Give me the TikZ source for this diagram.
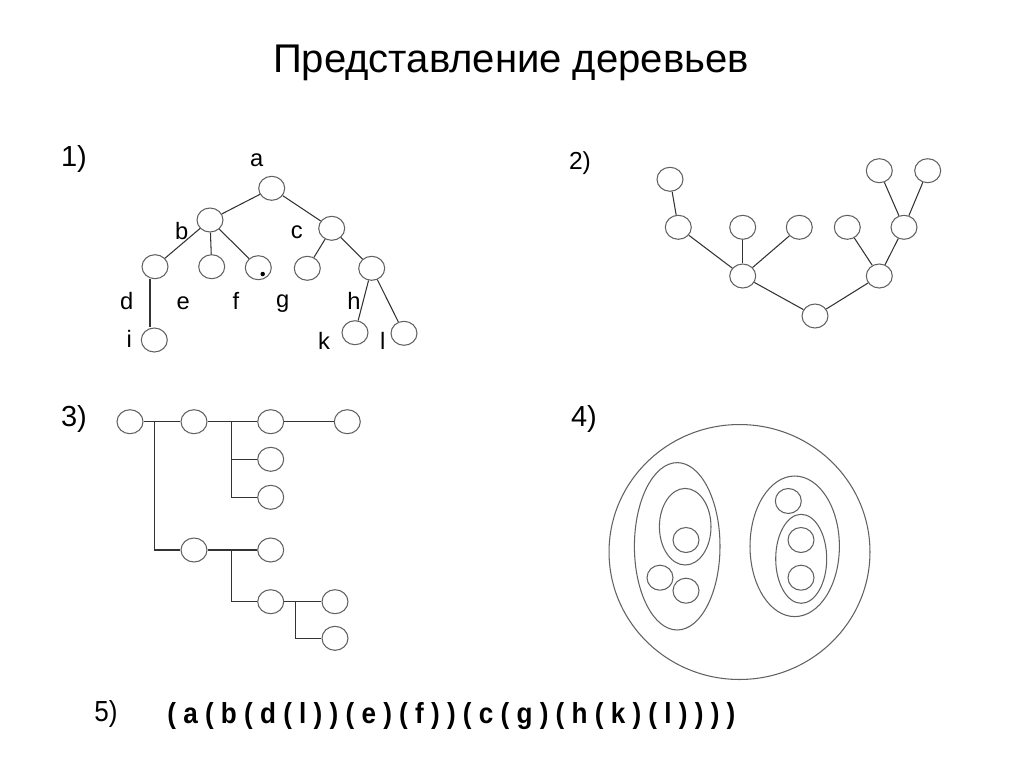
\documentclass[tikz,border=0pt]{standalone}
\usepackage{fontspec}
\setmainfont{Liberation Sans}
\newfontfamily\narrowfont[FakeStretch=0.9]{Liberation Sans}
\usetikzlibrary{shapes.geometric}
\begin{document}
\begin{tikzpicture}[x=0.02cm,y=-0.02cm,
  nd/.style={draw=black!62, line width=0.6pt, ellipse, minimum width=0.52cm, minimum height=0.48cm, inner sep=0pt},
  ed/.style={draw=black!80, line width=0.6pt},
  lbl/.style={font=\fontsize{13.5}{15}\selectfont, inner sep=0pt},
  num/.style={font=\fontsize{16.5}{19}\selectfont, inner sep=0pt},
  shp/.style={draw=black!62, line width=0.6pt}]
\useasboundingbox (0,0) rectangle (1024,768);
\node[font=\fontsize{22.8}{26}\selectfont] (title) at (511,63) {Представление деревьев};
% ---------- 1)
\node[num] (n1) at (74,159) {1)};
\node[nd] (a) at (271.7,188.3) {};
\node[nd] (b) at (210,220) {};
\node[nd] (c) at (331.7,228.3) {};
\node[nd] (d) at (155,266.7) {};
\node[nd] (e) at (211.7,266.7) {};
\node[nd] (f) at (258.3,267.7) {};
\node[nd] (g) at (307.3,268.3) {};
\node[nd] (h) at (371.7,268.3) {};
\node[nd] (i) at (154.3,340) {};
\node[nd] (k) at (355,332.7) {};
\node[nd] (l) at (404,333.3) {};
\fill (262.7,274) circle (0.045cm);
\draw[ed] (a) -- (b);
\draw[ed] (a) -- (c);
\draw[ed] (b) -- (d);
\draw[ed] (b) -- (e);
\draw[ed] (b) -- (f);
\draw[ed] (c) -- (g);
\draw[ed] (c) -- (h);
\draw[ed] (d.south) ++(-5,0) coordinate (dd) -- (dd |- i.north);
\draw[ed] (h) -- (k);
\draw[ed] (h) -- (l);
\node[lbl] (la) at (256.7,160) {a};
\node[lbl] (lb) at (181.7,231) {b};
\node[lbl] (lc) at (296.7,232) {c};
\node[lbl] (ld) at (126.7,301) {d};
\node[lbl] (le) at (183.3,303) {e};
\node[lbl] (lf) at (236,301) {f};
\node[lbl] (lg) at (282.7,304) {g};
\node[lbl] (lh) at (354,301) {h};
\node[lbl] (li) at (129.3,339) {i};
\node[lbl] (lk) at (324,341) {k};
\node[lbl] (ll) at (382.7,341) {l};
% ---------- 2)
\node[font=\fontsize{14}{16}\selectfont, inner sep=0pt] (n2) at (580,163) {2)};
\node[nd] (t1) at (670,179.3) {};
\node[nd] (t2) at (678.3,227.3) {};
\node[nd] (t3) at (742.7,227.3) {};
\node[nd] (t4) at (799.3,227.3) {};
\node[nd] (t5) at (847.3,227.3) {};
\node[nd] (t6) at (904,227.3) {};
\node[nd] (t7) at (879.3,170.7) {};
\node[nd] (t8) at (927.7,170.7) {};
\node[nd] (m1) at (742.7,276) {};
\node[nd] (m2) at (879.3,276) {};
\node[nd] (r) at (815,316) {};
\draw[ed] (t1) -- (t2);
\draw[ed] (t2) -- (m1);
\draw[ed] (t3) -- (m1);
\draw[ed] (t4) -- (m1);
\draw[ed] (t5) -- (m2);
\draw[ed] (t6) -- (m2);
\draw[ed] (t7) -- (t6);
\draw[ed] (t8) -- (t6);
\draw[ed] (m1) -- (r);
\draw[ed] (m2) -- (r);
% ---------- 3)
\node[num] (n3) at (74,419) {3)};
\node[nd] (p1) at (130,421.7) {};
\node[nd] (p2) at (194,421.7) {};
\node[nd] (p3) at (270.7,421.7) {};
\node[nd] (p4) at (347.3,421.7) {};
\node[nd] (p5) at (270.7,459.3) {};
\node[nd] (p6) at (270.7,497.3) {};
\node[nd] (q1) at (194,550) {};
\node[nd] (q2) at (270.7,550) {};
\node[nd] (q3) at (270.7,601.7) {};
\node[nd] (q4) at (335,601.7) {};
\node[nd] (q5) at (335,638.3) {};
\draw[ed] (p1) -- (p2);
\draw[ed] (p2) -- (p3);
\draw[ed] (p3) -- (p4);
\draw[ed] (154.3,421.7) |- (q1);
\draw[ed] (231.7,421.7) |- (p5);
\draw[ed] (231.7,421.7) |- (p6);
\draw[ed] (q1) -- (q2);
\draw[ed] (231.7,550) |- (q3);
\draw[ed] (q3) -- (q4);
\draw[ed] (295.7,601.7) |- (q5);
% ---------- 4)
\node[num] (n4) at (584,419) {4)};
\draw[shp] (739.5,552) ellipse [x radius=2.61cm, y radius=2.55cm];
\draw[shp] (677.2,546.3) ellipse [x radius=0.856cm, y radius=1.674cm];
\draw[shp] (685.2,526.7) ellipse [x radius=0.516cm, y radius=0.766cm];
\draw[shp] (794.7,546.3) ellipse [x radius=0.894cm, y radius=1.406cm];
\draw[shp] (801.2,558.8) ellipse [x radius=0.51cm, y radius=0.89cm];
\draw[shp] (686,540) ellipse [x radius=0.26cm, y radius=0.25cm];
\draw[shp] (660,577.7) ellipse [x radius=0.26cm, y radius=0.25cm];
\draw[shp] (686,590.7) ellipse [x radius=0.26cm, y radius=0.25cm];
\draw[shp] (788.3,501) ellipse [x radius=0.26cm, y radius=0.25cm];
\draw[shp] (801,540) ellipse [x radius=0.26cm, y radius=0.25cm];
\draw[shp] (801,577.7) ellipse [x radius=0.26cm, y radius=0.25cm];
% ---------- 5)
\node[font=\narrowfont\fontsize{16.5}{18}\selectfont, inner sep=0pt] (n5) at (106,714) {5)};
\node[font=\narrowfont\bfseries\fontsize{16.5}{18}\selectfont, inner sep=0pt, anchor=west] (expr) at (167,716)
  {( a ( b ( d ( l ) ) ( e ) ( f ) ) ( c ( g ) ( h ( k ) ( l ) ) ) )};
\end{tikzpicture}
\end{document}
